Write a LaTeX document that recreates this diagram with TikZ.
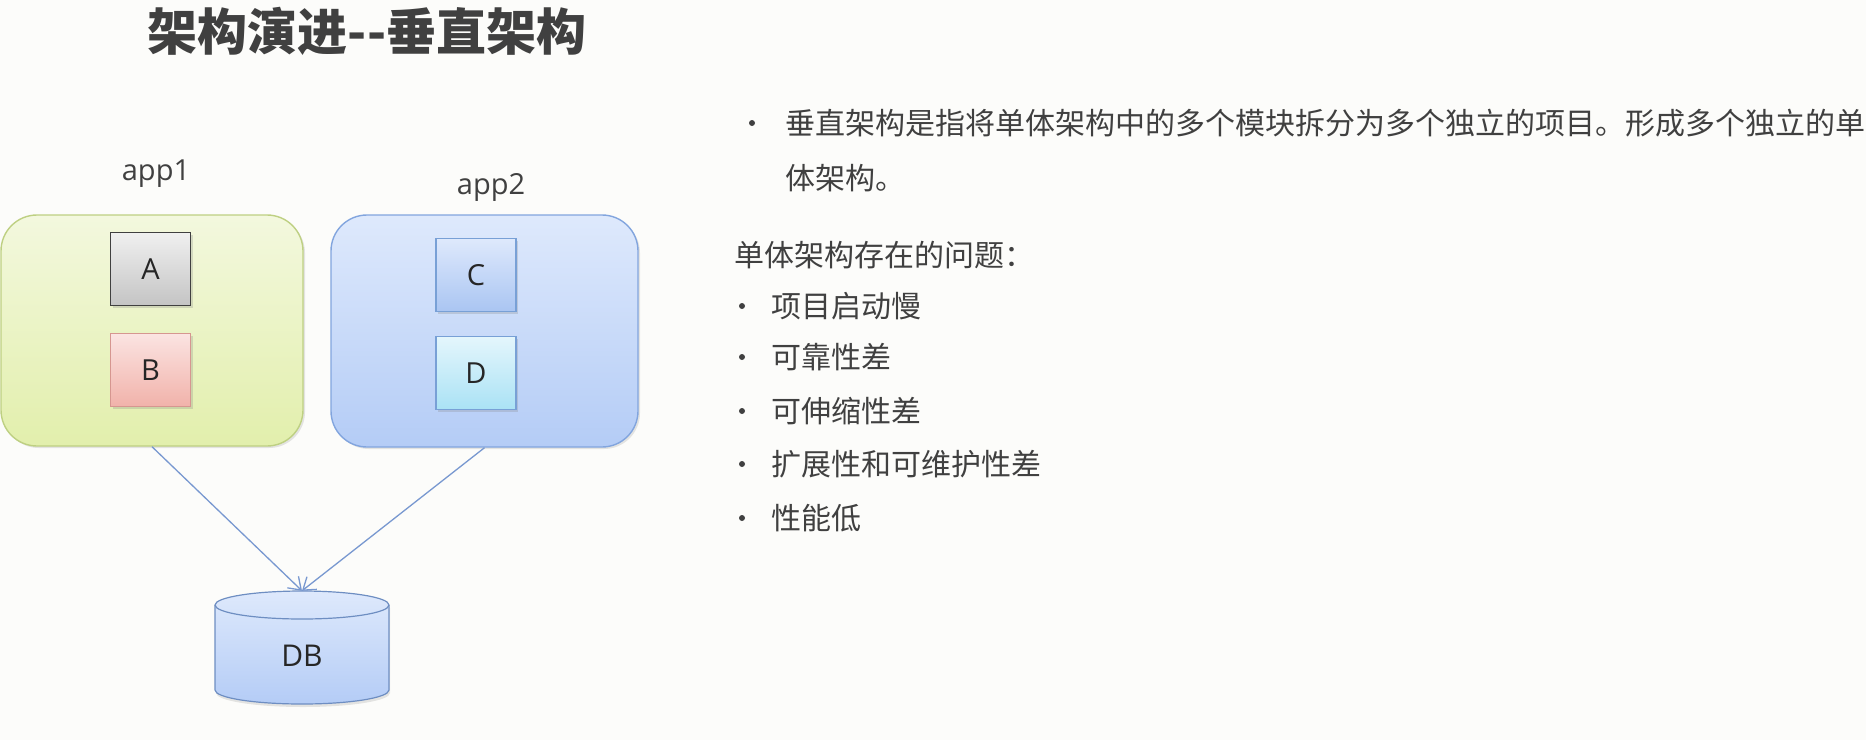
\documentclass[tikz,border=0pt]{standalone}
\usepackage{fontspec}
\setmainfont{Open Sans}
\newfontfamily\cjk{Noto Sans CJK SC}
\usetikzlibrary{arrows.meta,shadows}
\definecolor{bg}{RGB}{252,252,250}
\definecolor{txt}{RGB}{64,64,64}
\definecolor{arrowc}{RGB}{120,152,208}
\definecolor{gTop}{RGB}{243,248,222}
\definecolor{gBot}{RGB}{226,239,172}
\definecolor{gBorder}{RGB}{190,208,130}
\definecolor{bTop}{RGB}{222,233,252}
\definecolor{bBot}{RGB}{180,204,246}
\definecolor{bBorder}{RGB}{130,165,222}
\definecolor{aTop}{RGB}{240,240,240}
\definecolor{aBot}{RGB}{196,196,196}
\definecolor{pTop}{RGB}{251,228,226}
\definecolor{pBot}{RGB}{241,178,170}
\definecolor{pBorder}{RGB}{214,150,144}
\definecolor{cTop}{RGB}{222,233,252}
\definecolor{cBot}{RGB}{170,197,242}
\definecolor{dTop}{RGB}{228,246,252}
\definecolor{dBot}{RGB}{170,226,245}
\definecolor{mBorder}{RGB}{120,160,214}
\definecolor{dbBorder}{RGB}{110,142,194}
\tikzset{
  appbox/.style={rounded corners=36pt, line width=1.4pt, inner sep=0pt},
  modbox/.style={line width=1.2pt, minimum width=80pt, minimum height=73pt, inner sep=0pt,
    font=\fontsize{29}{33}\selectfont, text=black!85,
    drop shadow={shadow xshift=2pt, shadow yshift=-2pt, opacity=0.25}},
  applabel/.style={font=\fontsize{29}{34}\selectfont, text=txt},
  cjktext/.style={font=\cjk\fontsize{30}{36}\selectfont, text=txt, anchor=west, inner sep=0pt},
  bulletdot/.style={circle, fill=txt, inner sep=0pt, minimum size=6pt},
  arr/.style={draw=arrowc, line width=1.3pt, arrows={-Straight Barb[angle=70:14pt]}}
}
\begin{document}
\begin{tikzpicture}[x=1pt,y=1pt]
\fill[bg] (0,0) rectangle (1866,-740);
\useasboundingbox (0,0) rectangle (1866,-740);

% title
\node[font=\cjk\bfseries\fontsize{50}{60}\selectfont, text=txt] (title) at (367,-31) {架构演进--垂直架构};

% app boxes
\node[applabel] (app1label) at (156,-174) {app1};
\node[applabel] (app2label) at (491,-187) {app2};
\node[appbox, draw=gBorder, top color=gTop, bottom color=gBot, minimum width=302pt, minimum height=231pt,
  drop shadow={shadow xshift=2pt, shadow yshift=-2pt, opacity=0.2}] (app1) at (152,-330.5) {};
\node[appbox, draw=bBorder, top color=bTop, bottom color=bBot, minimum width=307pt, minimum height=232pt,
  drop shadow={shadow xshift=2pt, shadow yshift=-2pt, opacity=0.2}] (app2) at (484.5,-331) {};

% modules
\node[modbox, draw=black!75, top color=aTop, bottom color=aBot, line width=1.6pt] (A) at (150.5,-269) {A};
\node[modbox, draw=pBorder, top color=pTop, bottom color=pBot] (B) at (150.5,-370) {B};
\node[modbox, draw=mBorder, top color=cTop, bottom color=cBot] (C) at (476,-275) {C};
\node[modbox, draw=mBorder, top color=dTop, bottom color=dBot] (D) at (476,-373) {D};

% database cylinder
\path[top color=bTop, bottom color=bBot, draw=dbBorder, line width=1.2pt,
  drop shadow={shadow xshift=1pt, shadow yshift=-3pt, opacity=0.2}]
  (215,-605) -- (215,-690) arc[start angle=180, end angle=360, x radius=87, y radius=14]
  -- (389,-605) arc[start angle=0, end angle=180, x radius=87, y radius=14] -- cycle;
\draw[dbBorder, line width=1.2pt] (215,-605) arc[start angle=180, end angle=360, x radius=87, y radius=14];
\node[minimum width=174pt, minimum height=113pt, inner sep=0pt] (db) at (302,-647.5) {};
\node[font=\fontsize{30}{34}\selectfont, text=black!85] (dblabel) at (302,-656) {DB};

% connectors
\draw[arr] (app1.south) -- (db.north);
\draw[arr] (app2.south) -- (db.north);

% right side text
\node[bulletdot] (b0) at (752,-123) {};
\node[cjktext] (t0a) at (785,-123) {垂直架构是指将单体架构中的多个模块拆分为多个独立的项目。形成多个独立的单};
\node[cjktext] (t0b) at (785,-178) {体架构。};
\node[cjktext] (head) at (734,-255) {单体架构存在的问题：};
\node[bulletdot] (b1) at (742,-306) {};
\node[cjktext] (t1) at (771,-306) {项目启动慢};
\node[bulletdot] (b2) at (742,-357) {};
\node[cjktext] (t2) at (771,-357) {可靠性差};
\node[bulletdot] (b3) at (742,-411) {};
\node[cjktext] (t3) at (771,-411) {可伸缩性差};
\node[bulletdot] (b4) at (742,-464) {};
\node[cjktext] (t4) at (771,-464) {扩展性和可维护性差};
\node[bulletdot] (b5) at (742,-518) {};
\node[cjktext] (t5) at (771,-518) {性能低};
\end{tikzpicture}
\end{document}
